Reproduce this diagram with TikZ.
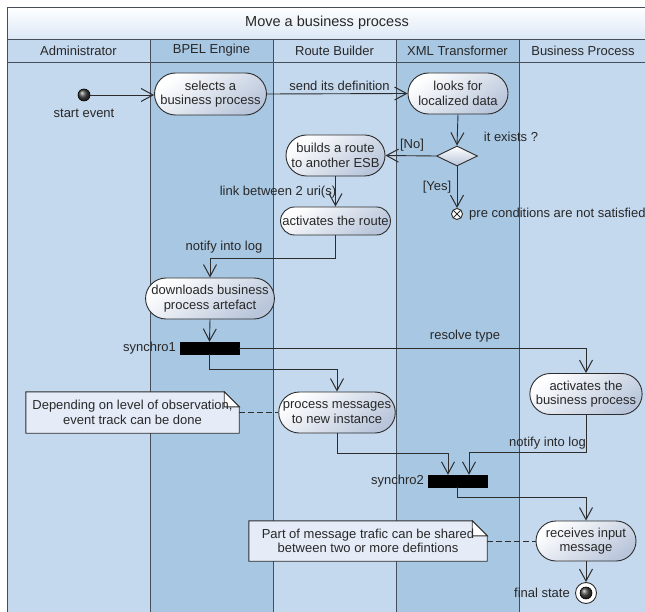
\documentclass[tikz,border=0pt]{standalone}
\usepackage{fontspec}
\setmainfont{Liberation Sans}
\usetikzlibrary{arrows.meta,shapes.misc,shapes.geometric,backgrounds,calc}
\definecolor{laneL}{RGB}{196,216,238}
\definecolor{laneD}{RGB}{168,199,226}
\definecolor{titleB}{RGB}{220,232,246}
\definecolor{frameC}{RGB}{70,78,90}
\definecolor{lineC}{RGB}{45,45,45}
\definecolor{txtC}{RGB}{40,40,40}
\definecolor{nodeB}{RGB}{184,197,218}
\definecolor{noteF}{RGB}{229,236,248}
\tikzset{
  lanebox/.style={draw=frameC, line width=0.9pt},
  act/.style={rounded rectangle, draw=lineC, line width=0.9pt, top color=white, bottom color=nodeB, shading angle=35, align=center, inner sep=1pt, minimum width=102pt, minimum height=41pt, text=txtC},
  bar/.style={rectangle, fill=black, draw=black, minimum width=59pt, minimum height=12pt, inner sep=0pt},
  lbl/.style={text=txtC, inner sep=1pt},
  notetext/.style={align=center, text=txtC, inner sep=0pt},
  noteshape/.style={draw=lineC, line width=0.9pt, fill=noteF},
  flow/.style={draw=lineC, line width=0.9pt, -{Straight Barb[length=12pt,width=13pt,line width=1pt]}},
  anchorline/.style={draw=lineC, line width=0.9pt, dashed, dash pattern=on 6pt off 3pt},
  ballnode/.style={circle, inner sep=0pt, shading=ball, ball color=gray!55!black, draw=black, line width=0.6pt},
}
\begin{document}
\begin{tikzpicture}[x=1pt, y=-1pt, font=\fontsize{13}{14.5}\selectfont]
\useasboundingbox (0,0) rectangle (645,612);
\begin{scope}[on background layer]
  \fill[white] (0,0) rectangle (645,612);
  \begin{scope}
    \clip (0,0) rectangle (645,612);
    \shade[top color=white, bottom color=titleB] (7,7) rectangle (647,39);
    \fill[laneL] (7,39) rectangle (150,620);
    \fill[laneD] (150,39) rectangle (273,620);
    \fill[laneL] (273,39) rectangle (396,620);
    \fill[laneD] (396,39) rectangle (519,620);
    \fill[laneL] (519,39) rectangle (647,620);
    \draw[lanebox] (7,620) -- (7,7) -- (647,7) -- (647,620);
    \draw[lanebox] (7,39) -- (647,39);
    \draw[lanebox] (7,62) -- (647,62);
    \draw[lanebox] (150,39) -- (150,620);
    \draw[lanebox] (273,39) -- (273,620);
    \draw[lanebox] (396,39) -- (396,620);
    \draw[lanebox] (519,39) -- (519,620);
  \end{scope}
\end{scope}

% title and lane headers
\node[lbl, font=\fontsize{14.5}{16}\selectfont] (title) at (327,23) {Move a business process};
\node[lbl] (h1) at (78.5,50.5) {Administrator};
\node[lbl] (h2) at (211.5,50.5) {BPEL Engine};
\node[lbl] (h3) at (334.5,50.5) {Route Builder};
\node[lbl] (h4) at (457.5,50.5) {XML Transformer};
\node[lbl] (h5) at (583,50.5) {Business Process};

% nodes
\node[ballnode, minimum size=12pt] (start) at (84,95) {};
\node[lbl] (startl) at (84,113) {start event};
\node[act, minimum width=103pt, minimum height=42pt] (sel) at (210.5,94) {selects a\\business process};
\node[act] (looks) at (458,93.5) {looks for\\localized data};
\node[diamond, draw=lineC, line width=0.9pt, top color=white, bottom color=nodeB, minimum width=41pt, minimum height=20pt, inner sep=0pt] (dec) at (457,156) {};
\node[act, minimum width=101pt] (builds) at (335.5,155.5) {builds a route\\to another ESB};
\node[circle, draw=lineC, line width=0.9pt, fill=white, minimum size=11pt, inner sep=0pt,
      path picture={\draw[lineC, line width=0.9pt] (path picture bounding box.north west) -- (path picture bounding box.south east) (path picture bounding box.north east) -- (path picture bounding box.south west);}] (ff) at (457,214) {};
\node[lbl, anchor=west] (ffl) at (468,214) {pre conditions are not satisfied};
\node[act, minimum width=101pt, minimum height=28pt] (actroute) at (335.5,221) {activates the route};
\node[act, minimum width=116pt] (down) at (210,298.5) {downloads business\\process artefact};
\node[bar] (sync1) at (209.5,348) {};
\node[lbl, anchor=east] (sync1l) at (177,348) {synchro1};
\node[act] (actbp) at (586,394) {activates the\\business process};
\node[act] (proc) at (337,412.5) {process messages\\to new instance};
\node[bar] (sync2) at (457.5,481) {};
\node[lbl, anchor=east] (sync2l) at (425,481) {synchro2};
\node[act, minimum height=40pt] (recv) at (586,541) {receives input\\message};
\node[circle, draw=lineC, line width=0.9pt, fill=white, minimum size=21pt, inner sep=0pt] (final) at (586,593) {};
\node[ballnode, minimum size=12pt] (finalin) at (586,593) {};
\node[lbl, anchor=east] (finall) at (571,593) {final state};

% notes
\node[notetext, minimum width=213pt, minimum height=41pt] (note1) at (132.5,412.5) {Depending on level of observation,\\event track can be done};
\node[notetext, minimum width=238pt, minimum height=40pt] (note2) at (368,541) {Part of message trafic can be shared\\between two or more defintions};
\begin{scope}[on background layer]
  \foreach \n in {note1,note2}{
    \draw[noteshape] (\n.south west) -- (\n.north west) -- ([xshift=-15pt]\n.north east) -- ([yshift=-15pt]\n.north east) -- (\n.south east) -- cycle;
    \draw[draw=lineC, line width=0.9pt, fill=white] ([xshift=-15pt]\n.north east) -- ([xshift=-15pt,yshift=-15pt]\n.north east) -- ([yshift=-15pt]\n.north east) -- cycle;
  }
\end{scope}

% connectors
\draw[flow] (start) -- (start -| sel.west);
\draw[flow] (sel.east) -- (looks.west);
\node[lbl] (l1) at (339.5,86) {send its definition};
\draw[flow] (looks.south) -- (dec.north);
\node[lbl] (l2) at (511,137) {it exists ?};
\draw[flow] (dec.west) -- (builds.east);
\node[lbl] (l3) at (412,145) {[No]};
\draw[flow] (dec.south) -- (ff.north);
\node[lbl] (l4) at (437,187) {[Yes]};
\draw[flow] (builds.south) -- (actroute.north);
\node[lbl] (l5) at (278,192) {link between 2 uri(s)};
\draw[flow] (actroute.south) -- ++(0,23) -| (down.north);
\node[lbl] (l6) at (224,247) {notify into log};
\draw[flow] (down.south) -- (sync1.north);
\draw[flow] (sync1.east) -| (actbp.north);
\node[lbl] (l7) at (465,336) {resolve type};
\draw[flow] (sync1.south) -- ++(0,15) -| (proc.north);
\draw[flow] (proc.south) -- ++(0,19.5) -| ([xshift=-9.5pt]sync2.north);
\draw[flow] (actbp.south) -- ++(0,37) -| ([xshift=11.5pt]sync2.north);
\node[lbl] (l8) at (547.5,443) {notify into log};
\draw[flow] (sync2.south) -- ++(0,10) -| (recv.north);
\draw[flow] (recv.south) -- (final.north);
\draw[anchorline] (note1.east) -- (proc.west);
\draw[anchorline] (note2.east) -- (recv.west);
\end{tikzpicture}
\end{document}
